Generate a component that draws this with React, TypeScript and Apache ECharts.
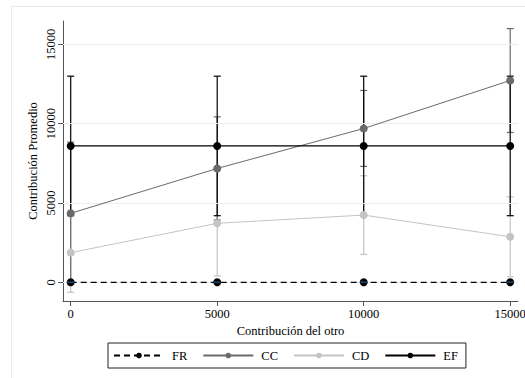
import React, { useEffect, useRef } from "react";
import * as echarts from "echarts";

const xValues = [0, 5000, 10000, 15000];
const frMean = [0, 0, 0, 0];
const frLow = [0, 0, 0, 0];
const frHigh = [0, 0, 0, 0];
const ccMean = [4350, 7180, 9700, 12730];
const ccLow = [-140, 3930, 7310, 9450];
const ccHigh = [8840, 10435, 12100, 16000];
const cdMean = [1870, 3720, 4240, 2870];
const cdLow = [-630, 400, 1760, 350];
const cdHigh = [4360, 7040, 6720, 5390];
const efMean = [8600, 8600, 8600, 8600];
const efLow = [4200, 4200, 4200, 4200];
const efHigh = [13000, 13000, 13000, 13000];
const yTicks = [0, 5000, 10000, 15000];
const xTicks = [0, 5000, 10000, 15000];
const gridValues = [0, 5000, 10000, 15000];
const yTitle = "Contribución Promedio";
const xTitle = "Contribución del otro";

const FONT = '"Liberation Serif", "Times New Roman", serif';

function errSeries(name: string, low: number[], high: number[], color: string, z: number) {
  return {
    type: "custom",
    name: name + "_err",
    z,
    data: xValues.map((x, i) => [x, low[i], high[i]]),
    encode: { x: 0, y: [1, 2] },
    renderItem: (params: any, api: any) => {
      const x = api.value(0);
      const pLo = api.coord([x, api.value(1)]);
      const pHi = api.coord([x, api.value(2)]);
      const w = 3.5;
      const st = { stroke: color, lineWidth: 1.2 };
      return {
        type: "group",
        children: [
          { type: "line", shape: { x1: pLo[0], y1: pLo[1], x2: pHi[0], y2: pHi[1] }, style: st },
          { type: "line", shape: { x1: pLo[0] - w, y1: pLo[1], x2: pLo[0] + w, y2: pLo[1] }, style: st },
          { type: "line", shape: { x1: pHi[0] - w, y1: pHi[1], x2: pHi[0] + w, y2: pHi[1] }, style: st },
        ],
      };
    },
  };
}

function lineSeries(name: string, vals: number[], color: string, width: number, dashed: boolean, z: number) {
  return {
    type: "line",
    name,
    z,
    data: xValues.map((x, i) => [x, vals[i]]),
    symbol: "circle",
    symbolSize: 8,
    showSymbol: true,
    itemStyle: { color },
    lineStyle: { color, width, type: dashed ? [6, 4] : "solid" },
  };
}

export default function App() {
  const ref = useRef<HTMLDivElement>(null);
  useEffect(() => {
    if (!ref.current) return;
    const chart = echarts.init(ref.current, null, { renderer: "svg" });
    chart.setOption({
      animation: false,
      backgroundColor: "#ffffff",
      graphic: [
        {
          type: "rect",
          z: -10,
          shape: { x: 11.5, y: 6.5, width: 600, height: 600 },
          style: { fill: "none", stroke: "#e4ecec", lineWidth: 1 },
        },
        {
          type: "text",
          x: 33,
          y: 161,
          rotation: Math.PI / 2,
          style: {
            text: yTitle,
            fontFamily: FONT,
            fontSize: 12.5,
            fill: "#000",
            align: "center",
            verticalAlign: "middle",
          },
        },
      ],
      grid: { left: 63, right: 7, top: 21, bottom: 77, containLabel: false, outerBoundsMode: "none" },
      legend: {
        data: ["FR", "CC", "CD", "EF"],
        left: 108,
        top: 343,
        orient: "horizontal",
        itemWidth: 50,
        itemHeight: 7,
        itemGap: 15,
        borderColor: "#222",
        borderWidth: 1,
        padding: [6, 8, 6, 5],
        formatter: "{a|{name}}",
        textStyle: {
          fontFamily: FONT,
          fontSize: 12.5,
          color: "#000",
          rich: { a: { width: 22, padding: [0, 0, 0, 3], fontFamily: FONT, fontSize: 12.5, color: "#000" } },
        },
      },
      xAxis: {
        type: "value",
        min: -263,
        max: 15266,
        name: xTitle,
        nameLocation: "middle",
        nameGap: 16,
        nameTextStyle: { fontFamily: FONT, fontSize: 12.5, color: "#000" },
        axisLine: { show: true, onZero: false, lineStyle: { color: "#555", width: 1 } },
        axisTick: { show: true, length: 5, customValues: xTicks, lineStyle: { color: "#555" } },
        axisLabel: {
          customValues: xTicks,
          formatter: (v: number) => String(v),
          fontFamily: FONT,
          fontSize: 12.5,
          color: "#000",
          margin: 6,
        },
        splitLine: { show: false },
      },
      yAxis: {
        type: "value",
        min: -1180,
        max: 16480,
        axisLine: { show: true, onZero: false, lineStyle: { color: "#555", width: 1 } },
        axisTick: { show: true, length: 5, customValues: yTicks, lineStyle: { color: "#555" } },
        axisLabel: {
          customValues: yTicks,
          formatter: (v: number) => String(v),
          rotate: 90,
          fontFamily: FONT,
          fontSize: 12.5,
          color: "#000",
          margin: 6,
        },
        splitLine: { show: false },
      },
      series: [
        {
          type: "line",
          name: "grid",
          data: [],
          z: 0,
          markLine: {
            silent: true,
            symbol: "none",
            label: { show: false },
            lineStyle: { color: "#e6eff1", width: 1, type: "solid" },
            data: gridValues.map((v) => ({ yAxis: v })),
          },
        },
        errSeries("CD", cdLow, cdHigh, "#c4c4c4", 2),
        errSeries("CC", ccLow, ccHigh, "#6a6a6a", 3),
        errSeries("EF", efLow, efHigh, "#000000", 4),
        errSeries("FR", frLow, frHigh, "#1a476f", 8),
        lineSeries("CD", cdMean, "#c4c4c4", 1, false, 5),
        lineSeries("CC", ccMean, "#6a6a6a", 1, false, 6),
        lineSeries("EF", efMean, "#000000", 1.3, false, 7),
        lineSeries("FR", frMean, "#000000", 1.2, true, 7),
      ],
    });
    return () => chart.dispose();
  }, []);
  return <div ref={ref} style={{ width: 525, height: 378, position: "absolute", left: 0, top: 0 }} />;
}
